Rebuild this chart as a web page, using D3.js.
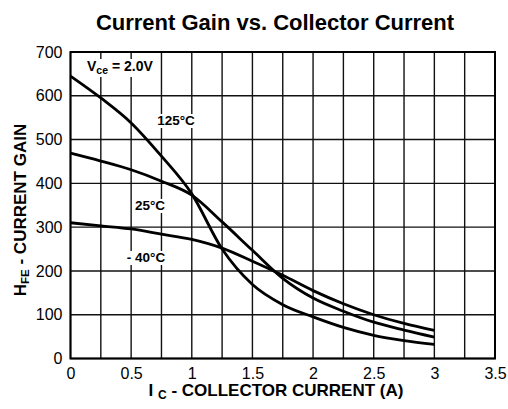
<!DOCTYPE html>
<html>
<head>
<meta charset="utf-8">
<script src="https://cdn.jsdelivr.net/npm/d3@7"></script>
<style>
  body { margin: 0; background: #fff; }
  text { font-family: "Liberation Sans", Arial, sans-serif; }
</style>
</head>
<body>
<div id="container"></div>
<script>
// collector current (A)
const currents = [0, 0.25, 0.5, 0.75, 1.0, 1.25, 1.5, 1.75, 2.0, 2.25, 2.5, 2.75, 3.0];

// current gain
const gain125 = [645, 595, 538, 462, 376, 250, 169, 123, 95, 71, 53, 41, 32];
const gain25 = [469, 451, 431, 405, 373, 312, 247, 183, 138, 108, 83, 65, 49];
const gainMinus40 = [310, 303, 296, 284, 272, 252, 222, 190, 155, 125, 100, 80, 64];

const xTicks = [0, 0.5, 1, 1.5, 2, 2.5, 3, 3.5];
const yTicks = [0, 100, 200, 300, 400, 500, 600, 700];
const xGrid = d3.range(0, 3.5001, 0.25);

const width = 508;
const height = 409;

const xScale = d3.scaleLinear().domain([0, 3.5]).range([70.5, 495]);
const yScale = d3.scaleLinear().domain([0, 700]).range([358.5, 52]);

const svg = d3.select("#container").append("svg")
  .attr("width", width).attr("height", height);

// grid
svg.append("g").selectAll("line")
  .data(xGrid).enter().append("line")
  .attr("x1", d => xScale(d)).attr("x2", d => xScale(d))
  .attr("y1", yScale(0)).attr("y2", yScale(700))
  .attr("stroke", "#111").attr("stroke-width", 1.4);

svg.append("g").selectAll("line")
  .data(yTicks).enter().append("line")
  .attr("x1", xScale(0)).attr("x2", xScale(3.5))
  .attr("y1", d => yScale(d)).attr("y2", d => yScale(d))
  .attr("stroke", "#111").attr("stroke-width", 1.4);

// frame
svg.append("rect")
  .attr("x", xScale(0)).attr("y", yScale(700))
  .attr("width", xScale(3.5) - xScale(0))
  .attr("height", yScale(0) - yScale(700))
  .attr("fill", "none").attr("stroke", "#000").attr("stroke-width", 2);

// axes (labels only)
const xAxis = d3.axisBottom(xScale).tickValues(xTicks).tickSize(0).tickPadding(9)
  .tickFormat(d => d3.format("")(d));
const yAxis = d3.axisLeft(yScale).tickValues(yTicks).tickSize(0).tickPadding(8);

const gx = svg.append("g").attr("transform", "translate(0," + yScale(0) + ")").call(xAxis);
const gy = svg.append("g").attr("transform", "translate(" + xScale(0) + ",0)").call(yAxis);
[gx, gy].forEach(g => {
  g.select(".domain").remove();
  g.selectAll("text").attr("font-size", 16).attr("fill", "#000")
    .style("font-family", "'Liberation Sans', Arial, sans-serif");
});

// curves
const line = d3.line()
  .x((d, i) => xScale(currents[i]))
  .y(d => yScale(d))
  .curve(d3.curveMonotoneX);

[gain125, gain25, gainMinus40].forEach(series => {
  svg.append("path")
    .attr("d", line(series))
    .attr("fill", "none")
    .attr("stroke", "#000")
    .attr("stroke-width", 2.8);
});

// curve labels with white backing
function label(x, y, str) {
  const t = svg.append("text")
    .attr("x", x).attr("y", y)
    .attr("text-anchor", "middle")
    .attr("font-size", 13.5).attr("font-weight", "bold")
    .text(str);
  const b = t.node().getBBox();
  svg.insert("rect", function() { return t.node(); })
    .attr("x", b.x - 2).attr("y", b.y + 1)
    .attr("width", b.width + 4).attr("height", b.height - 1)
    .attr("fill", "#fff");
}
label(176, 125, "125°C");
label(150, 210, "25°C");
label(146, 262, "- 40°C");

// Vce note
const vce = svg.append("text")
  .attr("x", 87).attr("y", 71)
  .attr("font-size", 14).attr("font-weight", "bold");
vce.append("tspan").text("V");
vce.append("tspan").attr("font-size", 10.5).attr("dy", 3).text("ce");
vce.append("tspan").attr("dy", -3).text(" = 2.0V");
const vb = vce.node().getBBox();
svg.insert("rect", function() { return vce.node(); })
  .attr("x", vb.x - 2).attr("y", vb.y + 1)
  .attr("width", vb.width + 4).attr("height", vb.height)
  .attr("fill", "#fff");

// title
svg.append("text")
  .attr("x", 275).attr("y", 30)
  .attr("text-anchor", "middle")
  .attr("font-size", 22).attr("font-weight", "bold")
  .text("Current Gain vs. Collector Current");

// x label
const xl = svg.append("text")
  .attr("x", 276).attr("y", 396)
  .attr("text-anchor", "middle")
  .attr("font-size", 17).attr("font-weight", "bold");
xl.append("tspan").text("I ");
xl.append("tspan").attr("font-size", 12).attr("dy", 3).text("C");
xl.append("tspan").attr("dy", -3).text(" - COLLECTOR CURRENT (A)");

// y label
const yl = svg.append("text")
  .attr("transform", "translate(26,210) rotate(-90)")
  .attr("text-anchor", "middle")
  .attr("font-size", 17).attr("font-weight", "bold");
yl.append("tspan").text("H");
yl.append("tspan").attr("font-size", 11.5).attr("dy", 3).text("FE");
yl.append("tspan").attr("dy", -3).text(" - CURRENT GAIN");
</script>
</body>
</html>
